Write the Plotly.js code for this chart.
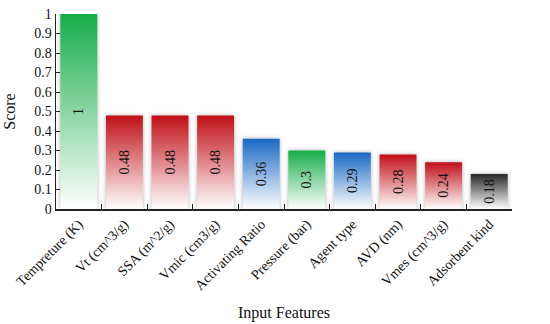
<!DOCTYPE html>
<html>
<head>
<meta charset="utf-8">
<script src="https://cdn.plot.ly/plotly-3.0.1.min.js"></script>
<style>
  body { margin: 0; background: #fff; }
  #chart { width: 550px; height: 324px; }
</style>
</head>
<body>
<div id="chart"></div>
<script>
// feature importance scores
var features = ['Tempreture (K)', 'Vt (cm^3/g)', 'SSA (m^2/g)', 'Vmic (cm3/g)',
    'Activating Ratio', 'Pressure (bar)', 'Agent type', 'AVD (nm)',
    'Vmes (cm^3/g)', 'Adsorbent kind'];
var scores = [1, 0.48, 0.48, 0.48, 0.36, 0.3, 0.29, 0.28, 0.24, 0.18];
var barColors = ['#17ad4a', '#c00f17', '#c00f17', '#c00f17', '#1a68c4',
    '#17ad4a', '#1a68c4', '#c00f17', '#c00f17', '#262626'];
var yTicks = [0, 0.1, 0.2, 0.3, 0.4, 0.5, 0.6, 0.7, 0.8, 0.9, 1];

var serif = '"Liberation Serif", "Times New Roman", serif';

var data = [{
    type: 'bar',
    x: features,
    y: scores,
    text: scores.map(String),
    textposition: 'inside',
    insidetextanchor: 'middle',
    textangle: -90,
    constraintext: 'none',
    textfont: {family: serif, size: 14, color: '#111'},
    marker: {color: barColors, line: {width: 0}},
    hoverinfo: 'none'
}];

var layout = {
    width: 550,
    height: 324,
    margin: {l: 56, r: 38, t: 14, b: 115},
    bargap: 0.19,
    showlegend: false,
    paper_bgcolor: '#fff',
    plot_bgcolor: '#fff',
    font: {family: serif, size: 14, color: '#111'},
    xaxis: {
        title: {text: 'Input Features', font: {size: 16}, standoff: 14},
        tickangle: -45,
        showline: true,
        linecolor: '#222',
        linewidth: 1.5,
        ticks: 'inside',
        tickson: 'boundaries',
        ticklen: 5,
        tickcolor: '#222',
        showgrid: false,
        automargin: false
    },
    yaxis: {
        title: {text: 'Score', font: {size: 16}, standoff: 14},
        range: [0, 1],
        tickvals: yTicks,
        ticktext: yTicks.map(String),
        showline: true,
        linecolor: '#222',
        linewidth: 1.5,
        ticks: 'inside',
        ticklen: 4,
        tickcolor: '#222',
        showgrid: false,
        zeroline: false,
        automargin: false
    }
};

Plotly.newPlot('chart', data, layout, {displayModeBar: false, staticPlot: true}).then(function (gd) {
    // colour-to-white vertical gradients on the bars
    var ns = 'http://www.w3.org/2000/svg';
    var svg = gd.querySelector('.main-svg');
    var defs = document.createElementNS(ns, 'defs');
    svg.insertBefore(defs, svg.firstChild);
    var paths = gd.querySelectorAll('.bars .point path');
    paths.forEach(function (p, i) {
        var g = document.createElementNS(ns, 'linearGradient');
        g.setAttribute('id', 'barGrad' + i);
        g.setAttribute('x1', '0'); g.setAttribute('y1', '0');
        g.setAttribute('x2', '0'); g.setAttribute('y2', '1');
        var s1 = document.createElementNS(ns, 'stop');
        s1.setAttribute('offset', '0');
        s1.setAttribute('stop-color', barColors[i]);
        var s2 = document.createElementNS(ns, 'stop');
        s2.setAttribute('offset', '1');
        s2.setAttribute('stop-color', '#ffffff');
        g.appendChild(s1); g.appendChild(s2);
        defs.appendChild(g);
        p.style.fill = 'url(#barGrad' + i + ')';
        p.style.filter = 'drop-shadow(0 0 2px rgba(0,0,0,0.3))';
    });
});
</script>
</body>
</html>
